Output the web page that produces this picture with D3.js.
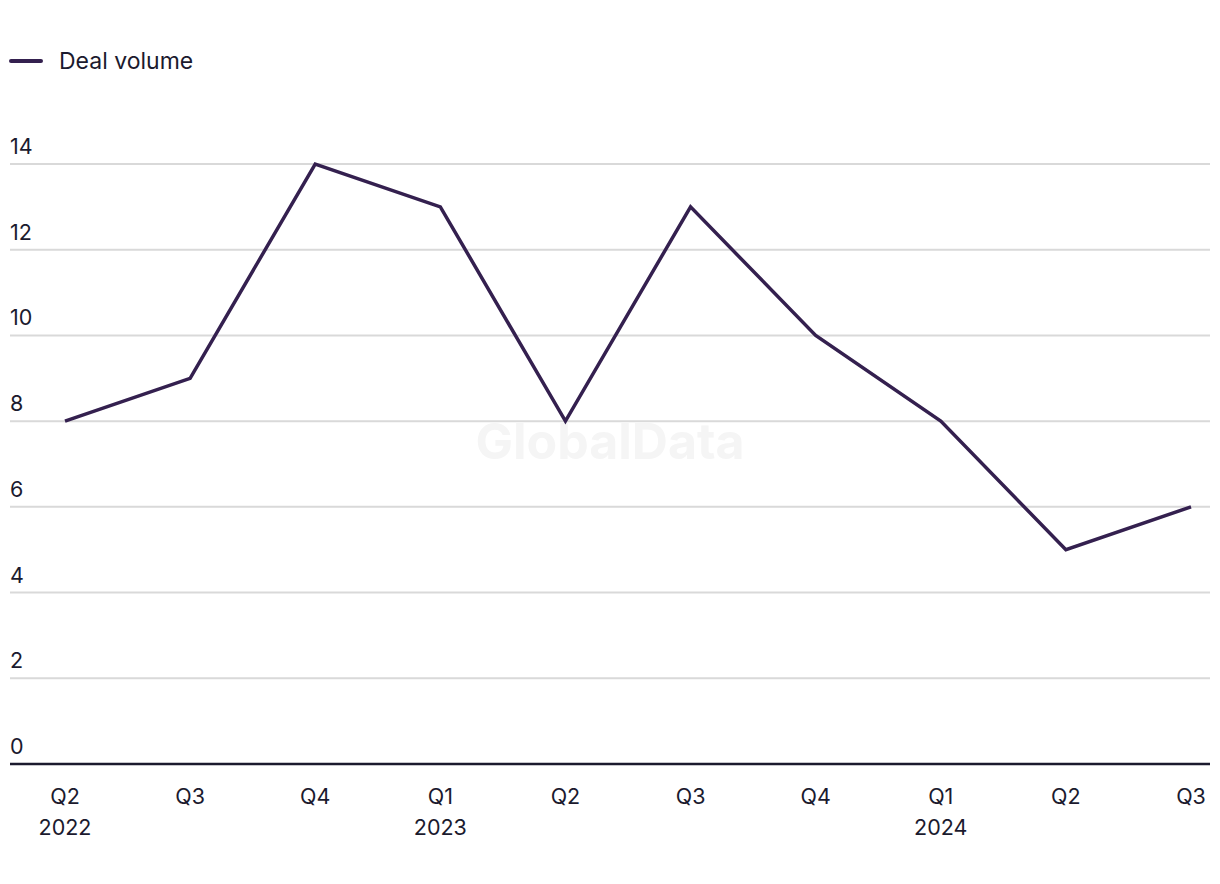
<!DOCTYPE html>
<html>
<head>
<meta charset="utf-8">
<script src="https://cdn.jsdelivr.net/npm/d3@7"></script>
<style>
  html, body { margin: 0; padding: 0; background: #ffffff; }
  svg { display: block; font-family: Inter, "Liberation Sans", Arial, sans-serif; }
</style>
</head>
<body>
<svg id="chart" width="1220" height="884"></svg>
<script>
const quarters = ["Q2", "Q3", "Q4", "Q1", "Q2", "Q3", "Q4", "Q1", "Q2", "Q3"];
const years    = ["2022", "", "", "2023", "", "", "", "2024", "", ""];
const dealVolume = [8, 9, 14, 13, 8, 13, 10, 8, 5, 6];
const yTicks = [0, 2, 4, 6, 8, 10, 12, 14];
const seriesName = "Deal volume";

const lineColor = "#34204f";
const textColor = "#1b1a2e";

const svg = d3.select("#chart");
const idx = d3.range(dealVolume.length);

const x = d3.scalePoint().domain(idx).range([65, 1191]);
const y = d3.scaleLinear().domain([0, 14]).range([764, 164]);
const left = 10, right = 1210;

// watermark
svg.append("text")
  .attr("x", 610).attr("y", 459)
  .attr("text-anchor", "middle")
  .attr("font-size", 50).attr("font-weight", 700)
  .attr("fill", "#f5f5f5")
  .text("GlobalData");

// gridlines
svg.append("g").selectAll("line")
  .data(yTicks.filter(d => d > 0))
  .join("line")
  .attr("x1", left).attr("x2", right)
  .attr("y1", d => y(d)).attr("y2", d => y(d))
  .attr("stroke", "#d9d9d9").attr("stroke-width", 2);

// y labels
svg.append("g").selectAll("text")
  .data(yTicks)
  .join("text")
  .attr("x", left).attr("y", d => y(d) - 10)
  .attr("font-size", 21.5).attr("fill", textColor)
  .text(d => d);

// baseline axis
svg.append("line")
  .attr("x1", left).attr("x2", right)
  .attr("y1", y(0)).attr("y2", y(0))
  .attr("stroke", textColor).attr("stroke-width", 2.5);

// x labels
const xl = svg.append("g").selectAll("g")
  .data(idx)
  .join("g")
  .attr("transform", i => `translate(${x(i)},0)`);
xl.append("text")
  .attr("y", 804).attr("text-anchor", "middle")
  .attr("font-size", 21.5).attr("fill", textColor)
  .text(i => quarters[i]);
xl.append("text")
  .attr("y", 835).attr("text-anchor", "middle")
  .attr("font-size", 21.5).attr("fill", textColor)
  .text(i => years[i]);

// line
const line = d3.line().x(i => x(i)).y(i => y(dealVolume[i]));
svg.append("path")
  .datum(idx)
  .attr("d", line)
  .attr("fill", "none")
  .attr("stroke", lineColor)
  .attr("stroke-width", 3.5)
  .attr("stroke-linejoin", "miter");

// legend
svg.append("line")
  .attr("x1", 11).attr("x2", 41).attr("y1", 61).attr("y2", 61)
  .attr("stroke", lineColor).attr("stroke-width", 4)
  .attr("stroke-linecap", "round");
svg.append("text")
  .attr("x", 59).attr("y", 69)
  .attr("font-size", 23).attr("fill", textColor)
  .text(seriesName);
</script>
</body>
</html>
